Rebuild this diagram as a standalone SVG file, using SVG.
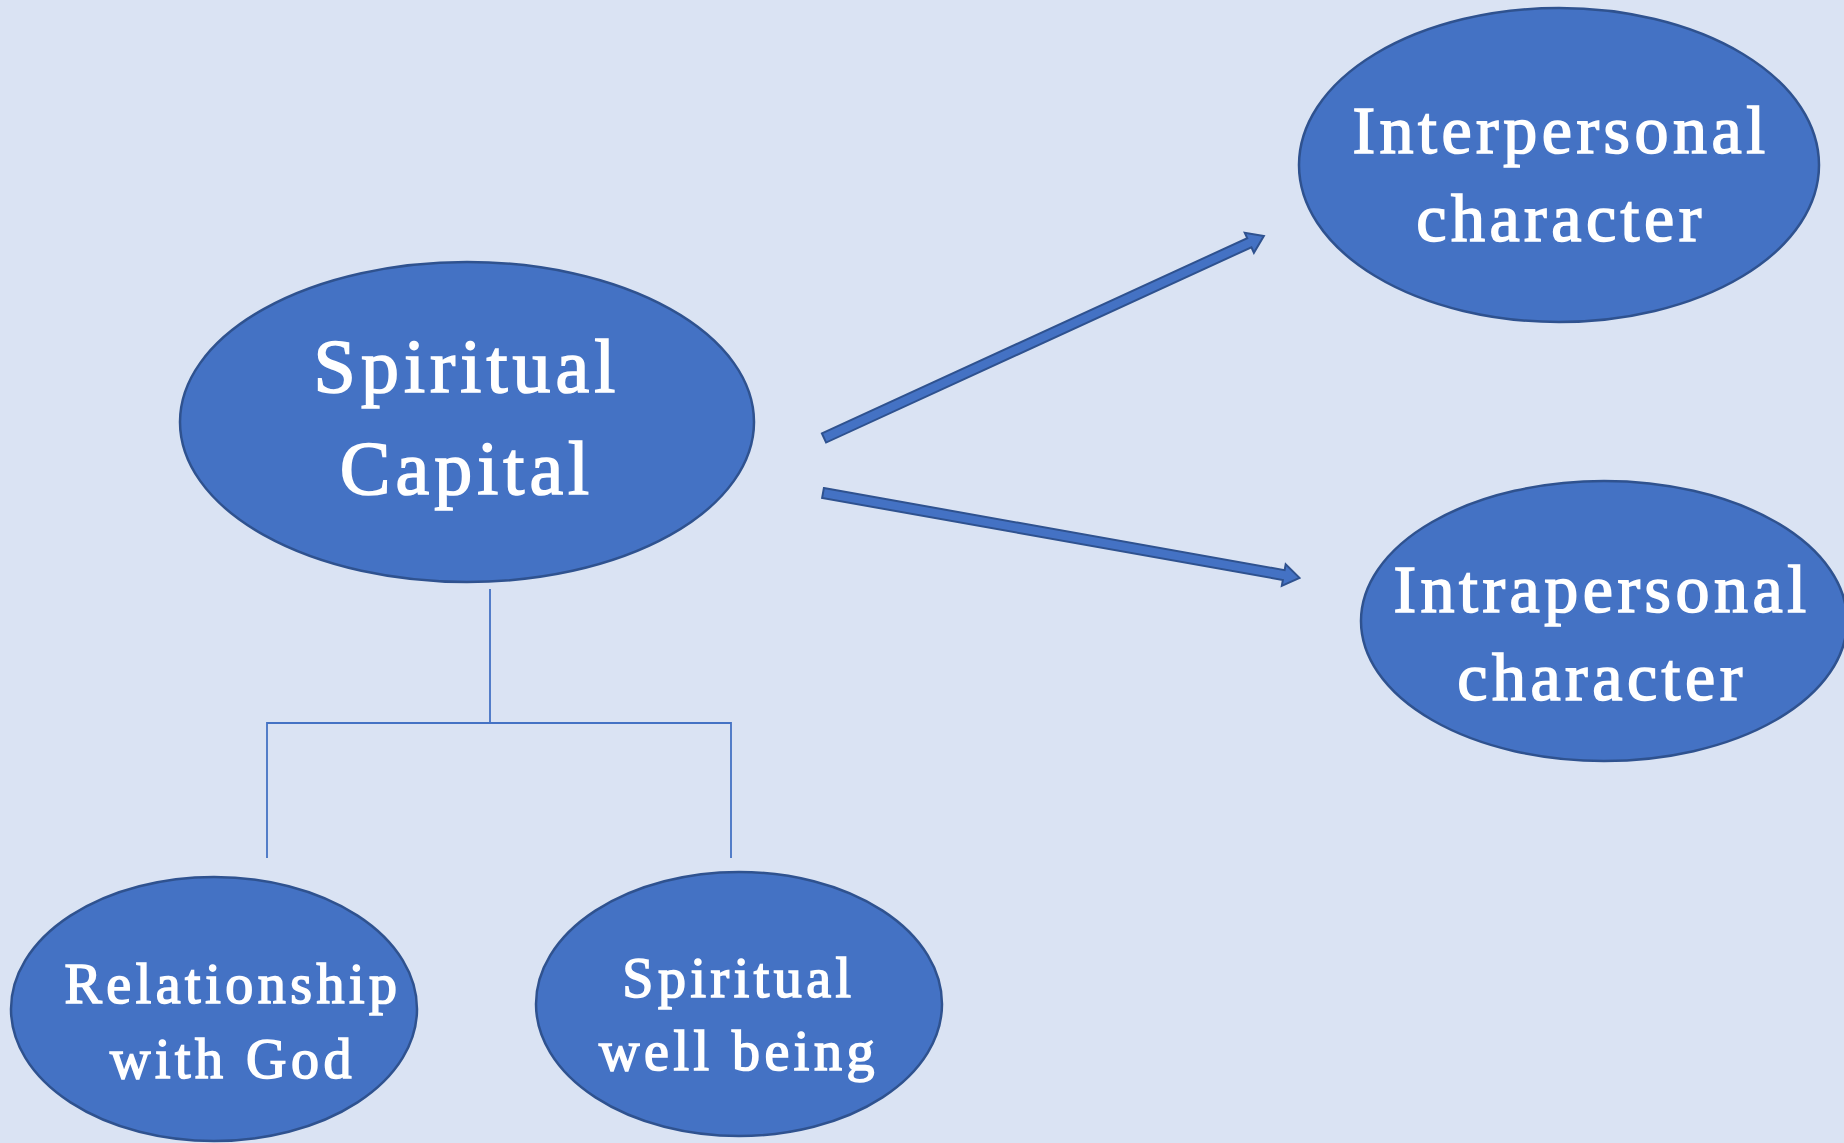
<svg xmlns="http://www.w3.org/2000/svg" width="1844" height="1143" viewBox="0 0 1844 1143">
<style>
.node{fill:#4472C4;stroke:#2F528F;stroke-width:2.5}
.lbl{fill:#ffffff;stroke:#ffffff;stroke-width:1.6;font-family:"Liberation Serif","DejaVu Serif",serif;text-anchor:middle}
.big{font-size:76px;letter-spacing:5px}
.mid{font-size:68px;letter-spacing:4.5px}
.sml{font-size:56px;letter-spacing:4.5px}
.conn{fill:none;stroke:#4472C4;stroke-width:1.8}
.arrow{fill:#4472C4;stroke:#2F528F;stroke-width:2;stroke-linejoin:miter}
</style>
<rect x="0" y="0" width="1844" height="1143" fill="#DAE3F3"/>
<g id="connectors">
<polyline class="conn" points="490,589 490,723"/>
<polyline class="conn" points="267,858 267,723 731,723 731,858"/>
<polygon class="arrow" transform="translate(824,438) rotate(-24.66)" points="0,-5 468,-5 468,-11 484,0 468,11 468,5 0,5"/>
<polygon class="arrow" transform="translate(823,493) rotate(10.1)" points="0,-5 468,-5 468,-11 484,0 468,11 468,5 0,5"/>
</g>
<g id="spiritual-capital">
<ellipse class="node" cx="467" cy="422" rx="287" ry="160"/>
<text class="lbl big" x="467" y="392">Spiritual</text>
<text class="lbl big" x="467" y="494">Capital</text>
</g>
<g id="interpersonal">
<ellipse class="node" cx="1559" cy="165" rx="260" ry="157"/>
<text class="lbl mid" x="1561" y="153">Interpersonal</text>
<text class="lbl mid" x="1561" y="241">character</text>
</g>
<g id="intrapersonal">
<ellipse class="node" cx="1604" cy="621" rx="243" ry="140"/>
<text class="lbl mid" x="1602" y="612">Intrapersonal</text>
<text class="lbl mid" x="1602" y="700">character</text>
</g>
<g id="relationship-with-god">
<ellipse class="node" cx="214" cy="1009" rx="203" ry="132"/>
<text class="lbl sml" x="233" y="1003">Relationship</text>
<text class="lbl sml" x="233" y="1078">with God</text>
</g>
<g id="spiritual-well-being">
<ellipse class="node" cx="739" cy="1004" rx="203" ry="132"/>
<text class="lbl sml" x="739" y="997">Spiritual</text>
<text class="lbl sml" x="739" y="1070">well being</text>
</g>
</svg>
